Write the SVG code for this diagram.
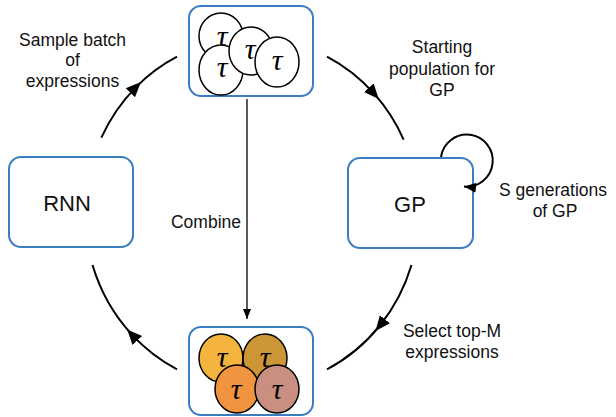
<svg xmlns="http://www.w3.org/2000/svg" width="616" height="417" viewBox="0 0 616 417">
<style>
.box{fill:#fff;stroke:#3A7DC0;stroke-width:2}
.lbl{font-family:"Liberation Sans",Arial,sans-serif;font-size:17.5px;fill:#111;text-anchor:middle}
.big{font-family:"Liberation Sans",Arial,sans-serif;font-size:22px;fill:#111;text-anchor:middle}
.tau{font-family:"Liberation Serif","DejaVu Serif",serif;font-style:italic;font-size:30px;fill:#000;text-anchor:middle}
.c{stroke:#000;stroke-width:1.5}
.arc{fill:none;stroke:#000;stroke-width:2}
</style>
<defs>
<marker id="tri" markerUnits="userSpaceOnUse" markerWidth="18" markerHeight="16" viewBox="0 -8 18 16" refX="8" refY="0" orient="auto">
<path d="M0,-6.5 L15,0 L0,6.5 z" fill="#000"/>
</marker>
<marker id="tip" markerUnits="userSpaceOnUse" markerWidth="14" markerHeight="12" viewBox="0 -6 14 12" refX="12" refY="0" orient="auto">
<path d="M0,-5 L12,0 L0,5 z" fill="#000"/>
</marker>
<marker id="small" markerUnits="userSpaceOnUse" markerWidth="12" markerHeight="10" viewBox="0 -5 12 10" refX="10" refY="0" orient="auto">
<path d="M0,-4 L10,0 L0,4 z" fill="#000"/>
</marker>
</defs>

<g id="top">
<rect class="box" x="189" y="6" width="124" height="90" rx="12"/>
<ellipse class="c" fill="#fff" cx="221" cy="36" rx="22" ry="23"/>
<text class="tau" x="222" y="46">τ</text>
<ellipse class="c" fill="#fff" cx="221" cy="70" rx="22" ry="25"/>
<text class="tau" x="222" y="77">τ</text>
<ellipse class="c" fill="#fff" cx="251" cy="51" rx="22" ry="24"/>
<text class="tau" x="250" y="59">τ</text>
<ellipse class="c" fill="#fff" cx="277" cy="62" rx="22" ry="25"/>
<text class="tau" x="277" y="70">τ</text>
</g>

<g id="bottom">
<rect class="box" x="189" y="327" width="124" height="88" rx="12"/>
<ellipse class="c" fill="#F4B43E" cx="221" cy="358" rx="22" ry="24"/>
<text class="tau" x="222" y="367">τ</text>
<ellipse class="c" fill="#CC9535" cx="265" cy="358" rx="22" ry="24"/>
<text class="tau" x="265" y="367">τ</text>
<ellipse class="c" fill="#F19440" cx="237" cy="389" rx="22" ry="24"/>
<text class="tau" x="236" y="399">τ</text>
<ellipse class="c" fill="#C98F80" cx="277" cy="389" rx="22" ry="24"/>
<text class="tau" x="277" y="399">τ</text>
</g>

<g id="rnn">
<rect class="box" x="9" y="157" width="124" height="90" rx="12"/>
<text class="big" x="67" y="211">RNN</text>
</g>

<g id="gp">
<rect class="box" x="348" y="158" width="125" height="90" rx="12"/>
<text class="big" x="410" y="212">GP</text>
</g>

<g id="connectors">
<path class="arc" d="M101.3,137.7 A167,175 0 0 1 136,87.1 A167,175 0 0 1 177,56.7" marker-mid="url(#tri)"/>
<path class="arc" d="M327,56.7 A167,175 0 0 1 374.1,93.7 A167,175 0 0 1 403.6,139.6" marker-mid="url(#tri)"/>
<path class="arc" d="M411.5,265 A167,175 0 0 1 379.9,325.5 A167,175 0 0 1 327,369.3" marker-mid="url(#tri)"/>
<path class="arc" d="M177,369.3 A167,175 0 0 1 131.9,334.6 A167,175 0 0 1 92.5,265" marker-mid="url(#tri)"/>
<path d="M247,99 L247,319" fill="none" stroke="#000" stroke-width="1.3" marker-end="url(#small)"/>
<path class="arc" d="M441,157 A26,26 0 1 1 464,186.5" marker-end="url(#tip)"/>
</g>

<g id="labels">
<text class="lbl" x="72.5" y="46">Sample batch</text>
<text class="lbl" x="72.5" y="66">of</text>
<text class="lbl" x="72.5" y="87">expressions</text>
<text class="lbl" x="442" y="53">Starting</text>
<text class="lbl" x="442" y="75">population for</text>
<text class="lbl" x="442" y="96">GP</text>
<text class="lbl" x="553" y="196">S generations</text>
<text class="lbl" x="555" y="217">of GP</text>
<text class="lbl" x="452" y="337">Select top-M</text>
<text class="lbl" x="452" y="358">expressions</text>
<text class="lbl" x="206" y="228">Combine</text>
</g>
</svg>
